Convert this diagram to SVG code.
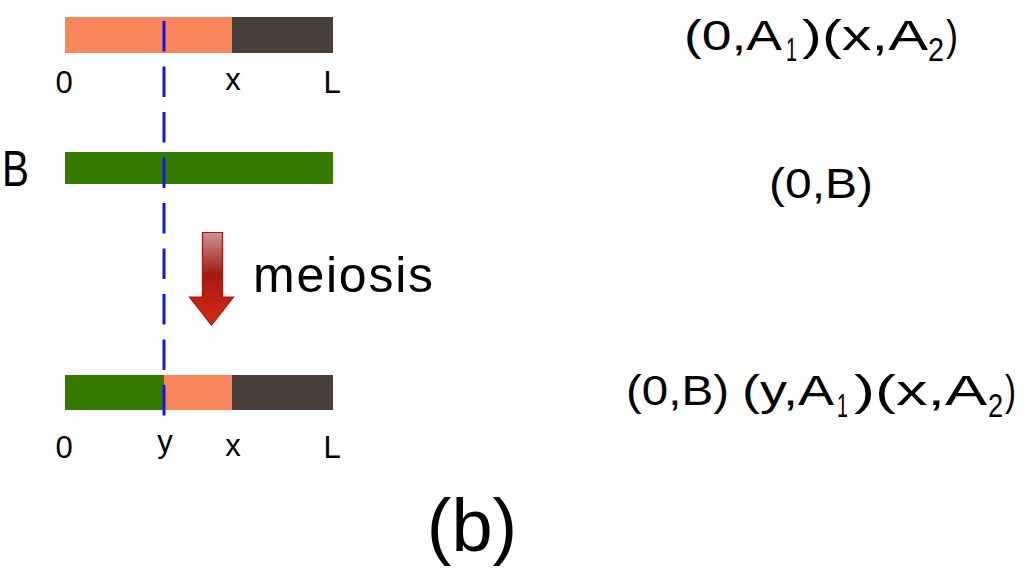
<svg xmlns="http://www.w3.org/2000/svg" width="1024" height="573" viewBox="0 0 1024 573">
<style>
.t{font-family:"Liberation Sans",Arial,sans-serif;fill:#000}
.lab{font-size:31px;text-anchor:middle}
.eq{font-size:42px}
.sub{font-size:33px}
.or{fill:#f9865a}
.dk{fill:#483f3a}
.gr{fill:#347c00}
</style>
<defs>
<linearGradient id="ag" x1="0" y1="0" x2="0" y2="1">
<stop offset="0" stop-color="#c89494"/>
<stop offset="0.45" stop-color="#a51a12"/>
<stop offset="1" stop-color="#d82a12"/>
</linearGradient>
</defs>
<rect width="1024" height="573" fill="#fff"/>
<g id="chromA">
<rect class="or" x="65" y="17" width="167" height="36"/>
<rect class="dk" x="232" y="17" width="101" height="36"/>
<text class="t lab" x="64" y="93">0</text>
<text class="t lab" x="233" y="90">x</text>
<text class="t lab" x="332" y="93">L</text>
</g>
<g id="chromB">
<text class="t" x="2" y="186" style="font-size:50px" textLength="27" lengthAdjust="spacingAndGlyphs">B</text>
<rect class="gr" x="65" y="152" width="268" height="32"/>
</g>
<g id="chromC">
<rect class="gr" x="65" y="375" width="99" height="35"/>
<rect class="or" x="164" y="375" width="68" height="35"/>
<rect class="dk" x="232" y="375" width="101" height="35"/>
<text class="t lab" x="64" y="458">0</text>
<text class="t lab" x="165" y="452">y</text>
<text class="t lab" x="233" y="456">x</text>
<text class="t lab" x="332" y="458">L</text>
</g>
<g id="connectors">
<line x1="164" y1="21" x2="164" y2="416" stroke="#1414ee" stroke-width="3" stroke-dasharray="30.5 15"/>
</g>
<g id="arrow">
<path d="M202.5,232.5 H222.5 V297 H233.5 L211.5,325 L189.5,297 H202.5 Z" fill="url(#ag)" stroke="#b01010" stroke-width="1.2"/>
<text class="t" x="253" y="292" style="font-size:50px" textLength="180">meiosis</text>
</g>
<g id="eqA">
<text class="t eq" x="684" y="50" textLength="98" lengthAdjust="spacingAndGlyphs">(0,A</text>
<text class="t sub" x="786" y="61" textLength="11" lengthAdjust="spacingAndGlyphs">1</text>
<text class="t eq" x="802" y="50" textLength="126" lengthAdjust="spacingAndGlyphs">)(x,A</text>
<text class="t sub" x="928" y="61" textLength="16" lengthAdjust="spacingAndGlyphs">2</text>
<text class="t eq" x="946" y="50" textLength="12" lengthAdjust="spacingAndGlyphs">)</text>
</g>
<g id="eqB">
<text class="t eq" x="769" y="198" textLength="104" lengthAdjust="spacingAndGlyphs">(0,B)</text>
</g>
<g id="eqC">
<text class="t eq" x="626" y="405" textLength="103" lengthAdjust="spacingAndGlyphs">(0,B)</text>
<text class="t eq" x="742" y="405" textLength="92" lengthAdjust="spacingAndGlyphs">(y,A</text>
<text class="t sub" x="837" y="417" textLength="11" lengthAdjust="spacingAndGlyphs">1</text>
<text class="t eq" x="854" y="405" textLength="133" lengthAdjust="spacingAndGlyphs">)(x,A</text>
<text class="t sub" x="988" y="417" textLength="15" lengthAdjust="spacingAndGlyphs">2</text>
<text class="t eq" x="1005" y="405" textLength="11" lengthAdjust="spacingAndGlyphs">)</text>
</g>
<g id="label">
<text class="t" x="472" y="551" style="font-size:74px;text-anchor:middle">(b)</text>
</g>
</svg>
